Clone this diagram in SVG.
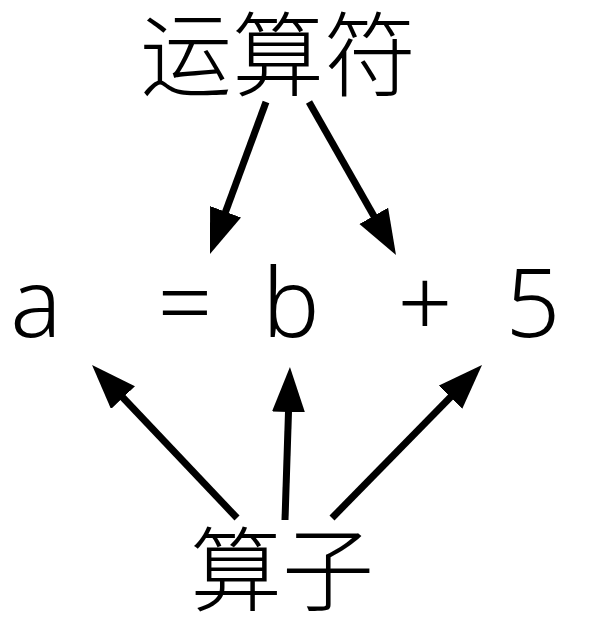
<svg xmlns="http://www.w3.org/2000/svg" width="592" height="625" viewBox="0 0 592 625">
<style>
.cjk{font-family:"Noto Sans CJK SC","Noto Sans",sans-serif;font-size:92px;font-weight:300;fill:#000;text-anchor:middle}
.lat{font-family:"Noto Sans","Liberation Sans",sans-serif;font-size:96px;font-weight:300;fill:#000;text-anchor:middle}
.arr{stroke:#000;stroke-width:7;fill:none;marker-end:url(#ah)}
</style>
<defs>
<marker id="ah" markerUnits="userSpaceOnUse" markerWidth="46" markerHeight="34" refX="25" refY="16.5" orient="auto" viewBox="0 0 46 34">
<path d="M0,0 L45,16.5 L0,33 z" fill="#000"/>
</marker>
</defs>
<rect width="592" height="625" fill="#fff"/>
<g id="operator"><text class="cjk" x="278" y="89">运算符</text></g>
<g id="expr">
<text class="lat" x="36" y="337">a</text>
<text class="lat" x="185" y="337">=</text>
<text class="lat" x="291" y="337">b</text>
<text class="lat" x="425" y="337">+</text>
<text class="lat" x="533" y="337">5</text>
</g>
<g id="operand"><text class="cjk" x="282" y="604">算子</text></g>
<g id="connectors">
<line class="arr" x1="266" y1="102" x2="216.9" y2="235.2"/>
<line class="arr" x1="309" y1="102" x2="386.1" y2="237.6"/>
<line class="arr" x1="237" y1="518" x2="105.8" y2="379.5"/>
<line class="arr" x1="285" y1="520" x2="289.3" y2="387"/>
<line class="arr" x1="332" y1="518" x2="468" y2="379.3"/>
</g>
</svg>
